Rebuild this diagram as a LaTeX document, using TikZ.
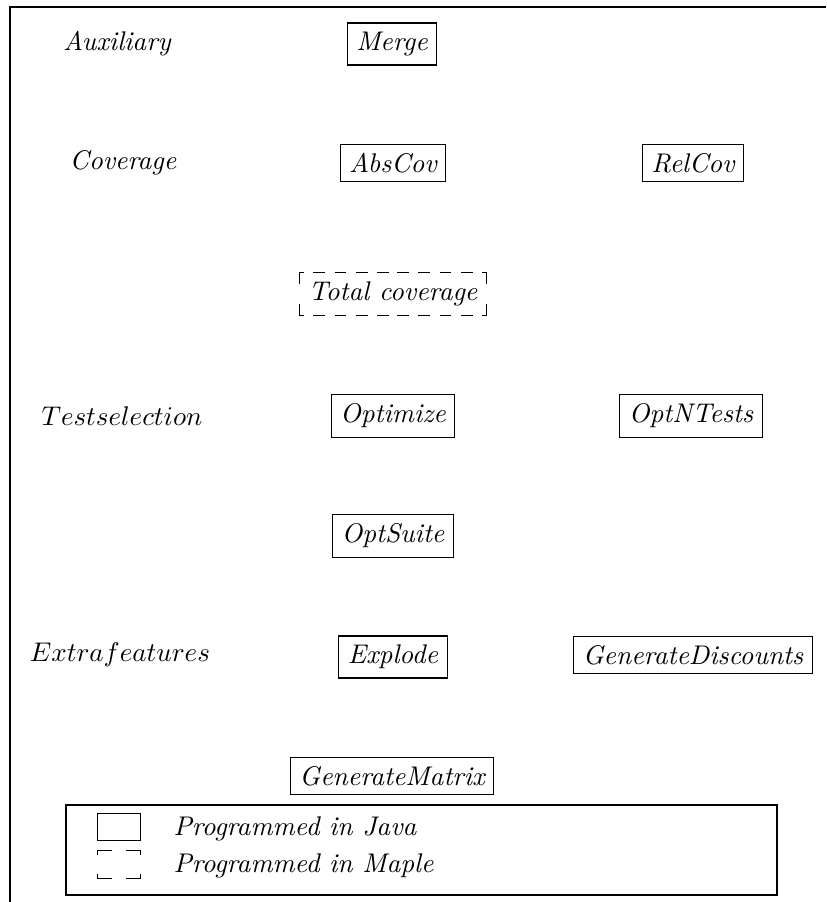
\documentclass[tikz,border=0pt]{standalone}
\begin{document}
\begin{tikzpicture}[x=0.37037pt,y=-0.37037pt,
  frame/.style={line width=0.5pt},
  box/.style={draw, line width=0.4pt, font=\itshape, inner sep=3.33pt},
  plainbox/.style={font=\itshape, inner sep=3.33pt},
  cat/.style={font=\itshape},
  tch/.style={line width=0.4pt, dash pattern=on 4.3pt off 3.6pt, dash phase=2.6pt},
  tcv/.style={line width=0.4pt, dash pattern=on 4.4pt off 20pt},
  kh/.style={line width=0.4pt, dash pattern=on 5.5pt off 20pt},
  kv/.style={line width=0.4pt, dash pattern=on 1.9pt off 20pt},
  key/.style={minimum width=15.6pt, minimum height=10.2pt, inner sep=0pt}]
% dashed frame round a node, each side drawn from its corners to its middle
\newcommand\modframe[3]{%
  \draw[#2] (#1.north west) -- (#1.north);
  \draw[#2] (#1.north east) -- (#1.north);
  \draw[#2] (#1.south west) -- (#1.south);
  \draw[#2] (#1.south east) -- (#1.south);
  \draw[#3] (#1.north west) -- (#1.west);
  \draw[#3] (#1.south west) -- (#1.west);
  \draw[#3] (#1.north east) -- (#1.east);
  \draw[#3] (#1.south east) -- (#1.east);}
\useasboundingbox (0,0) rectangle (826,902);

% outer frame (left and top edges only)
\coordinate (fbl) at (10,902);
\coordinate (ftl) at (10,7);
\coordinate (ftr) at (826,7);
\draw[frame] (fbl) -- (ftl) -- (ftr);

% row labels
\node[cat] (aux) at (117,44) {Auxiliary};
\node[cat] (cov) at (123,163) {Coverage};
\node (tsel) at (122,416) {$Testselection$};
\node (xfeat) at (120,655) {$Extra features$};

% Java modules
\node[box] (merge)  at (392,44)  {Merge};
\node[box] (abscov) at (393,163) {AbsCov};
\node[box] (relcov) at (693,163) {RelCov};
\node[box] (opt)    at (393,416) {Optimize};
\node[box] (optn)   at (691,416) {OptNTests};
\node[box] (suite)  at (393,536) {OptSuite};
\node[box] (expl)   at (393,657) {Explode};
\node[box] (gdisc)  at (693,655) {GenerateDiscounts};
\node[box] (gmat)   at (392,776) {GenerateMatrix};

% Maple module
\node[plainbox] (total) at (393,294) {Total coverage};
\modframe{total}{tch}{tcv}

% legend
\coordinate (lgtl) at (66,805);
\coordinate (lgbr) at (777,895);
\draw[line width=0.4pt] (lgtl) rectangle (lgbr);
\node[key, draw, line width=0.4pt] (javakey) at (119,827) {};
\node[key] (maplekey) at (119,864.5) {};
\modframe{maplekey}{kh}{kv}
\node[cat, anchor=west] (javatxt) at (164,829) {Programmed in Java};
\node[cat, anchor=west] (mapletxt) at (164,866) {Programmed in Maple};
\end{tikzpicture}
\end{document}
